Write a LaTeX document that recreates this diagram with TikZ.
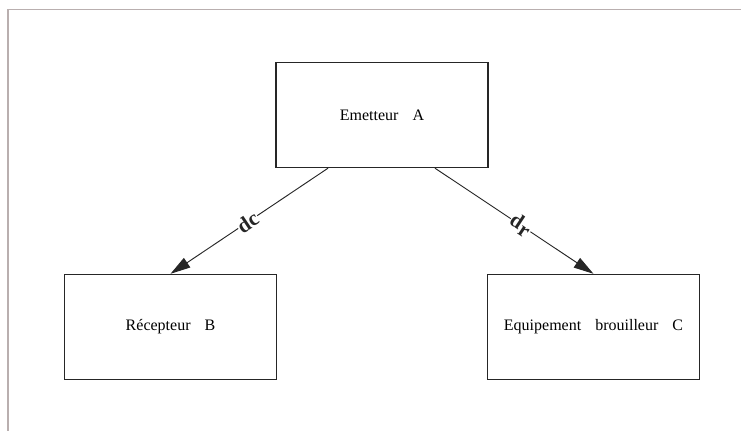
\documentclass[tikz,border=0pt]{standalone}
\usepackage{fontspec}
\setmainfont{Liberation Serif}
\usepackage{xcolor}
\usepackage{tikz}
\usetikzlibrary{arrows.meta}
\definecolor{framegray}{RGB}{185,175,175}
\newcommand{\gap}{\hspace{10.5pt}}

\begin{document}
\begin{tikzpicture}[x=0.75pt, y=-0.75pt,
    unit/.style={draw=black!85, line width=0.8pt, minimum width=159pt,
        minimum height=79pt, inner sep=0pt, font=\fontsize{12}{14}\selectfont},
    link/.style={-{Triangle[length=15pt,width=8.5pt]}, line width=0.7pt, black!85},
    dist/.style={sloped, fill=white, inner sep=0.5pt, font=\bfseries\fontsize{16}{18}\selectfont}
]
\useasboundingbox (0,0) rectangle (741,431);
% cadre
\draw[framegray, line width=0.9pt] (8,431) -- (8,9.5) -- (741,9.5);
\node[unit] (emet) at (382,115) {Emetteur\gap A};
\node[unit] (recep) at (170.5,327) {Récepteur\gap B};
\node[unit] (brouil) at (593.5,327) {Equipement\gap brouilleur\gap C};
\draw[link] ([xshift=-40.5pt]emet.south) -- (recep.north)
    node[dist, pos=0.51] {dc};
\draw[link] ([xshift=39.75pt]emet.south) -- (brouil.north)
    node[dist, pos=0.54] {d\kern0.5pt\raisebox{-3pt}{r}};
\end{tikzpicture}
\end{document}
